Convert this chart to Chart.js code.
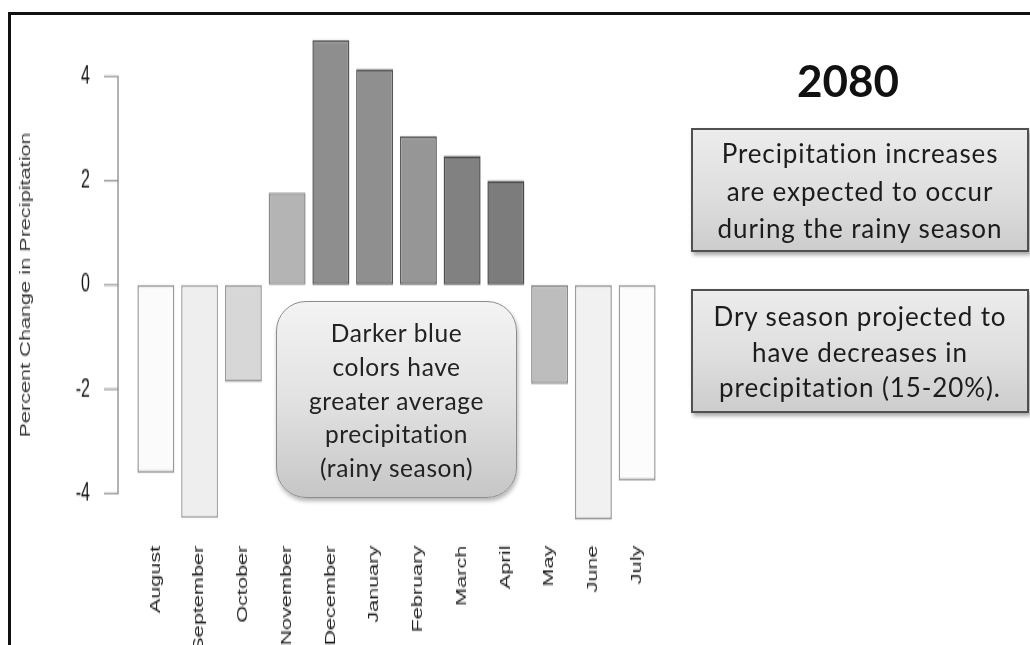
<!DOCTYPE html>
<html>
<head>
<meta charset="utf-8">
<title>2080 precipitation change</title>
<script src="https://cdn.jsdelivr.net/npm/chart.js@4.4.1/dist/chart.umd.min.js"></script>
<style>
  html, body { margin: 0; padding: 0; background: #fff; width: 1030px; height: 645px; overflow: hidden; position: relative; }
  /* the plot is drawn compact and stretched vertically, like a plot pasted into a slide */
  #plot { position: absolute; left: 0; top: 0; width: 1030px; height: 440px; transform: scaleY(1.55); transform-origin: 0 0; }
  #frame { position: absolute; left: 8px; top: 12px; width: 1100px; height: 700px; border-left: 3px solid #111; border-top: 3px solid #111; }
  .note { position: absolute; box-sizing: border-box; text-align: center; color: #1c1c1c; font-family: Lato, "Open Sans", sans-serif; }
  #year { left: 758px; top: 50px; width: 180px; font-size: 44px; font-weight: 700; line-height: 60px; color: #111; }
  .box { border: 2px solid #505050; background: linear-gradient(to bottom, #ececec 0%, #dedede 55%, #cdcdcd 100%); box-shadow: 2px 3px 4px rgba(0,0,0,0.35); font-size: 26px; letter-spacing: 0.9px; }
  #rainy { left: 691px; top: 128px; width: 338px; height: 124px; padding-top: 5px; line-height: 37.5px; }
  #dry { left: 691px; top: 289px; width: 338px; height: 124px; padding-top: 8px; line-height: 35.5px; }
  #legendNote { left: 276px; top: 301px; width: 241px; height: 197px; border: 1.5px solid #8c8c8c; border-radius: 30px;
    background: linear-gradient(to bottom, #f3f3f3 0%, #e2e2e2 50%, #c6c6c6 100%); box-shadow: 1px 3px 4px rgba(0,0,0,0.3);
    font-size: 24.5px; letter-spacing: 0.6px; line-height: 33.8px; padding-top: 14px; color: #222; }
</style>
</head>
<body>
<div id="plot"><canvas id="chart" width="1030" height="440" style="width:1030px;height:440px"></canvas></div>
<div id="frame"></div>
<div class="note" id="year">2080</div>
<div class="note box" id="rainy">Precipitation increases<br>are expected to occur<br>during the rainy season</div>
<div class="note box" id="dry">Dry season projected to<br>have decreases in<br>precipitation (15-20%).</div>
<div class="note" id="legendNote">Darker blue<br>colors have<br>greater average<br>precipitation<br>(rainy season)</div>
<script>
// Monthly percent change in precipitation, 2080 projection
const months = ['August', 'September', 'October', 'November', 'December', 'January',
                'February', 'March', 'April', 'May', 'June', 'July'];
const changes = [-3.60, -4.47, -1.86, 1.77, 4.70, 4.14, 2.86, 2.48, 2.00, -1.90, -4.50, -3.75];
const yTicks = [-4, -2, 0, 2, 4];

// shading: darker bars are the wetter months
const barFills = ['#fbfbfb', '#eeeeee', '#d7d7d7', '#b4b4b4', '#8e8e8e', '#8f8f8f',
                  '#969696', '#818181', '#7c7c7c', '#bdbdbd', '#f1f1f1', '#fcfcfc'];
const barEdges = ['#9a9a9a', '#a5a5a5', '#9a9a9a', '#8a8a8a', '#555555', '#565656',
                  '#5a5a5a', '#4a4a4a', '#464646', '#8a8a8a', '#9c9c9c', '#9c9c9c'];

const FONT = 'Liberation Sans, Arial, sans-serif';

// R-style left axis: a line spanning only the labelled range, ticks pointing outward
const offsetAxis = {
  id: 'offsetAxis',
  afterDraw(chart) {
    const y = chart.scales.y;
    const ctx = chart.ctx;
    const ax = chart.chartArea.left - 16;
    ctx.save();
    ctx.strokeStyle = '#9a9a9a';
    ctx.lineWidth = 1.5;
    ctx.beginPath();
    ctx.moveTo(ax, y.getPixelForValue(yTicks[yTicks.length - 1]));
    ctx.lineTo(ax, y.getPixelForValue(yTicks[0]));
    ctx.stroke();
    ctx.lineWidth = 1.1;
    yTicks.forEach(v => {
      const py = y.getPixelForValue(v);
      ctx.beginPath();
      ctx.moveTo(ax - 14, py);
      ctx.lineTo(ax + 0.75, py);
      ctx.stroke();
    });
    ctx.restore();
  }
};

new Chart(document.getElementById('chart'), {
  type: 'bar',
  data: {
    labels: months,
    datasets: [{
      data: changes,
      backgroundColor: barFills,
      borderColor: barEdges,
      borderWidth: 1.5,
      borderSkipped: false,
      categoryPercentage: 1,
      barPercentage: 0.846
    }]
  },
  options: {
    responsive: false,
    animation: false,
    events: [],
    layout: { padding: { left: 18, right: 371, top: 15.7, bottom: 0 } },
    plugins: { legend: { display: false }, tooltip: { enabled: false } },
    scales: {
      x: {
        offset: true,
        grid: { display: false, drawTicks: false },
        border: { display: false },
        ticks: { minRotation: 90, maxRotation: 90, autoSkip: false, padding: 0,
                 color: '#1e1e1e', font: { family: FONT, size: 14 } },
        afterFit: s => { s.height = 88; }
      },
      y: {
        min: -5,
        max: 5,
        afterBuildTicks: s => { s.ticks = yTicks.map(v => ({ value: v })); },
        afterFit: s => { s.width = 116; },
        grid: { display: false, drawTicks: true, tickLength: 42 },
        border: { display: false },
        ticks: { padding: 2, color: '#161616', font: { family: FONT, size: 16 } },
        title: { display: true, text: 'Percent Change in Precipitation', color: '#333',
                 padding: 0, font: { family: FONT, size: 14 } }
      }
    }
  },
  plugins: [offsetAxis]
});
</script>
</body>
</html>
